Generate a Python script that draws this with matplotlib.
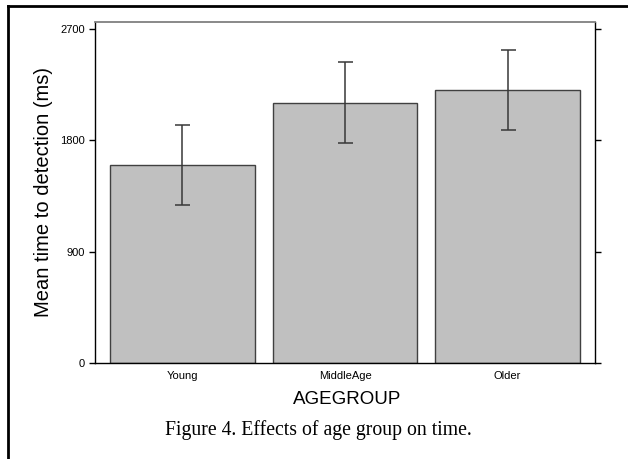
import numpy as np
import matplotlib.pyplot as plt
from matplotlib.lines import Line2D

# data
groups = ['Young', 'MiddleAge', 'Older']
mean_time = [1600, 2104, 2207]
err_time = [323, 328, 323]
yticks = [0, 900, 1800, 2700]

fig = plt.figure(figsize=(6.28, 4.59), dpi=100)
ax = fig.add_axes([95 / 628, 96 / 459, 500 / 628, 341 / 459])

x = np.arange(len(groups))
ax.bar(x, mean_time, width=0.89, color='#c0c0c0', edgecolor='#404040', linewidth=1.0, zorder=2)
ax.errorbar(x, mean_time, yerr=err_time, fmt='none', ecolor='#383838',
            elinewidth=1.1, capsize=5.4, capthick=1.1, zorder=3)

ax.set_xlim(-0.538, 2.538)
ax.set_ylim(0, 2757)
ax.set_yticks(yticks)
ax.set_yticklabels([str(v) for v in yticks], family='Liberation Sans', fontsize=8)
ax.set_xticks(x)
ax.set_xticklabels(groups, family='Liberation Sans', fontsize=8)
ax.tick_params(axis='x', length=0, pad=5.5)
ax.tick_params(axis='y', direction='out', length=4.3, width=1, right=True, pad=3)

for side in ['left', 'right', 'bottom']:
    ax.spines[side].set_color('black')
    ax.spines[side].set_linewidth(1.0)
ax.spines['top'].set_color('#808080')
ax.spines['top'].set_linewidth(1.3)

# axis titles placed as figure text
fig.text(44 / 628, 1 - 192 / 459, 'Mean time to detection (ms)', family='Liberation Sans',
         fontsize=14.5, rotation=90, ha='center', va='center')
fig.text(347 / 628, 1 - 400 / 459, 'AGEGROUP', family='Liberation Sans',
         fontsize=13.5, ha='center', va='center')

fig.text(318 / 628, 1 - 430 / 459, 'Figure 4. Effects of age group on time.',
         family='Liberation Serif', fontsize=14.2, ha='center', va='center')

# page frame (left and top edges)
fig.add_artist(Line2D([8 / 628, 8 / 628], [0, 1 - 6 / 459], color='black', linewidth=2, transform=fig.transFigure))
fig.add_artist(Line2D([8 / 628, 1], [1 - 6 / 459, 1 - 6 / 459], color='black', linewidth=2, transform=fig.transFigure))

fig.savefig('out.png', dpi=100)
